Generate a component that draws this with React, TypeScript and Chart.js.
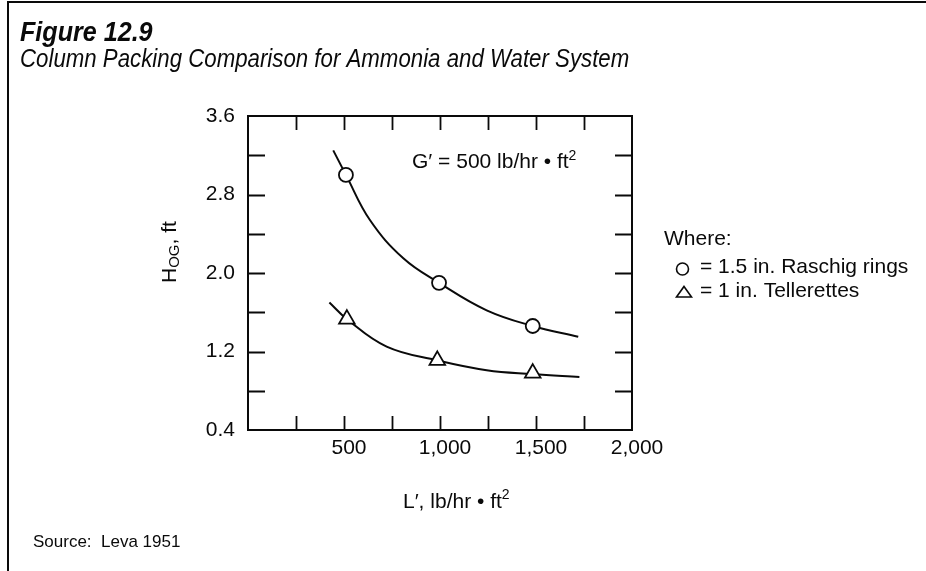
import { useEffect, useRef } from "react";
import { Chart, registerables } from "chart.js";

Chart.register(...registerables);

// Data
const raschigX = [510, 995, 1483];
const raschigY = [3.0, 1.9, 1.46];
const tellX = [515, 986, 1483];
const tellY = [1.53, 1.11, 0.98];

const raschigCurveX = [444, 510, 635, 809, 995, 1243, 1483, 1720];
const raschigCurveY = [3.25, 3.0, 2.54, 2.15, 1.9, 1.62, 1.46, 1.35];
const tellCurveX = [424, 515, 722, 986, 1243, 1483, 1726];
const tellCurveY = [1.7, 1.53, 1.25, 1.11, 1.01, 0.97, 0.94];

const xTickMarks = [250, 500, 750, 1000, 1250, 1500, 1750];
const xTickLabels = [500, 1000, 1500, 2000];
const yTickMarks = [0.8, 1.2, 1.6, 2.0, 2.4, 2.8, 3.2];
const yTickLabels = [0.4, 1.2, 2.0, 2.8, 3.6];

const FONT = '"Liberation Sans", Arial, Helvetica, sans-serif';
const INK = "#0a0a0a";

function pts(xs: number[], ys: number[]) {
  return xs.map((x, i) => ({ x, y: ys[i] }));
}

function txt(
  ctx: CanvasRenderingContext2D,
  s: string,
  x: number,
  y: number,
  font: string,
  sx = 1
) {
  ctx.save();
  ctx.font = font;
  ctx.textAlign = "left";
  ctx.textBaseline = "alphabetic";
  ctx.translate(x, y);
  ctx.scale(sx, 1);
  ctx.fillText(s, 0, 0);
  const w = ctx.measureText(s).width * sx;
  ctx.restore();
  return w;
}

const deco = {
  id: "deco",
  beforeDraw(chart: any) {
    const ctx = chart.ctx as CanvasRenderingContext2D;
    ctx.save();
    ctx.fillStyle = "#fff";
    ctx.fillRect(0, 0, chart.width, chart.height);
    ctx.restore();
  },
  afterDraw(chart: any) {
    const ctx = chart.ctx as CanvasRenderingContext2D;
    const { left, right, top, bottom } = chart.chartArea;
    const xs = chart.scales.x;
    const ys = chart.scales.y;
    ctx.save();
    ctx.strokeStyle = INK;
    ctx.fillStyle = INK;

    // plot box
    ctx.lineWidth = 2;
    ctx.strokeRect(left, top, right - left, bottom - top);

    // inward tick marks on all four sides
    ctx.lineWidth = 1.8;
    ctx.beginPath();
    for (const v of xTickMarks) {
      const px = Math.round(xs.getPixelForValue(v)) + 0.5;
      ctx.moveTo(px, bottom);
      ctx.lineTo(px, bottom - 14);
      ctx.moveTo(px, top);
      ctx.lineTo(px, top + 14);
    }
    for (const v of yTickMarks) {
      const py = Math.round(ys.getPixelForValue(v)) + 0.5;
      ctx.moveTo(left, py);
      ctx.lineTo(left + 17, py);
      ctx.moveTo(right, py);
      ctx.lineTo(right - 17, py);
    }
    ctx.stroke();

    // page frame
    ctx.lineWidth = 2;
    ctx.beginPath();
    ctx.moveTo(8, 2);
    ctx.lineTo(926, 2);
    ctx.moveTo(8, 1);
    ctx.lineTo(8, 571);
    ctx.stroke();

    // titles
    txt(ctx, "Figure 12.9", 20, 41, `italic bold 27px ${FONT}`, 0.93);
    txt(ctx, "Column Packing Comparison for Ammonia and Water System", 20, 67, `italic 25px ${FONT}`, 0.89);

    // annotation
    let w = txt(ctx, "G\u2032 = 500 lb/hr \u2022 ft", 412, 168, `21px ${FONT}`);
    txt(ctx, "2", 412 + w, 160, `14px ${FONT}`);

    // x-axis title
    w = txt(ctx, "L\u2032, lb/hr \u2022 ft", 403, 508, `21px ${FONT}`);
    txt(ctx, "2", 403 + w, 499, `14px ${FONT}`);

    // y-axis title (rotated)
    ctx.save();
    ctx.translate(176, 283);
    ctx.rotate(-Math.PI / 2);
    ctx.font = `21px ${FONT}`;
    ctx.fillText("H", 0, 0);
    const wH = ctx.measureText("H").width;
    ctx.font = `15px ${FONT}`;
    ctx.fillText("OG", wH, 3);
    const wOG = ctx.measureText("OG").width;
    ctx.font = `21px ${FONT}`;
    ctx.fillText(", ft", wH + wOG, 0);
    ctx.restore();

    // legend
    txt(ctx, "Where:", 664, 245, `21px ${FONT}`);
    ctx.lineWidth = 1.6;
    ctx.beginPath();
    ctx.arc(682.5, 269, 6, 0, Math.PI * 2);
    ctx.stroke();
    txt(ctx, "= 1.5 in. Raschig rings", 700, 273, `21px ${FONT}`);
    ctx.beginPath();
    ctx.moveTo(684, 286.5);
    ctx.lineTo(691.5, 297);
    ctx.lineTo(676.5, 297);
    ctx.closePath();
    ctx.stroke();
    txt(ctx, "= 1 in. Tellerettes", 700, 297, `21px ${FONT}`);

    // source
    txt(ctx, "Source:  Leva 1951", 33, 547, `17px ${FONT}`);

    ctx.restore();
  },
};

export default function App() {
  const ref = useRef<HTMLCanvasElement>(null);

  useEffect(() => {
    const canvas = ref.current;
    if (!canvas) return;
    const chart = new Chart(canvas, {
      type: "scatter",
      data: {
        datasets: [
          {
            label: "1.5 in. Raschig rings",
            data: pts(raschigX, raschigY),
            pointStyle: "circle",
            pointRadius: 7,
            pointBorderWidth: 1.8,
            backgroundColor: "#fff",
            borderColor: INK,
            showLine: false,
            order: 0,
          },
          {
            label: "1 in. Tellerettes",
            data: pts(tellX, tellY),
            pointStyle: "triangle",
            pointRadius: 9,
            pointBorderWidth: 1.8,
            backgroundColor: "#fff",
            borderColor: INK,
            showLine: false,
            order: 0,
          },
          {
            label: "Raschig curve",
            data: pts(raschigCurveX, raschigCurveY),
            showLine: true,
            pointRadius: 0,
            borderWidth: 2,
            borderColor: INK,
            tension: 0.4,
            order: 1,
          },
          {
            label: "Tellerettes curve",
            data: pts(tellCurveX, tellCurveY),
            showLine: true,
            pointRadius: 0,
            borderWidth: 2,
            borderColor: INK,
            tension: 0.4,
            order: 1,
          },
        ],
      } as any,
      options: {
        animation: false,
        responsive: false,
        maintainAspectRatio: false,
        devicePixelRatio: 1,
        events: [],
        layout: { padding: { left: 0, top: 116, right: 294, bottom: 0 } },
        plugins: {
          legend: { display: false },
          tooltip: { enabled: false },
        },
        scales: {
          x: {
            type: "linear",
            position: "bottom",
            min: 0,
            max: 2000,
            grid: { display: false, drawTicks: false },
            border: { display: false },
            ticks: {
              stepSize: 250,
              autoSkip: false,
              maxRotation: 0,
              padding: 6,
              labelOffset: 5,
              color: INK,
              font: { family: FONT, size: 21 },
              callback: (v: any) =>
                xTickLabels.includes(Number(v)) ? Number(v).toLocaleString("en-US") : "",
            },
            afterFit: (s: any) => {
              s.height = 141;
            },
          },
          y: {
            type: "linear",
            position: "left",
            min: 0.4,
            max: 3.6,
            grid: { display: false, drawTicks: false },
            border: { display: false },
            ticks: {
              stepSize: 0.4,
              autoSkip: false,
              padding: 13,
              color: INK,
              font: { family: FONT, size: 21 },
              callback: (v: any) =>
                yTickLabels.some((l) => Math.abs(l - Number(v)) < 1e-6) ? Number(v).toFixed(1) : "",
            },
            afterFit: (s: any) => {
              s.width = 248;
            },
          },
        },
      } as any,
      plugins: [deco],
    });
    return () => chart.destroy();
  }, []);

  return (
    <div style={{ position: "fixed", left: 0, top: 0, width: 926, height: 571, background: "#fff" }}>
      <canvas ref={ref} width={926} height={571} style={{ display: "block", width: 926, height: 571 }} />
    </div>
  );
}
